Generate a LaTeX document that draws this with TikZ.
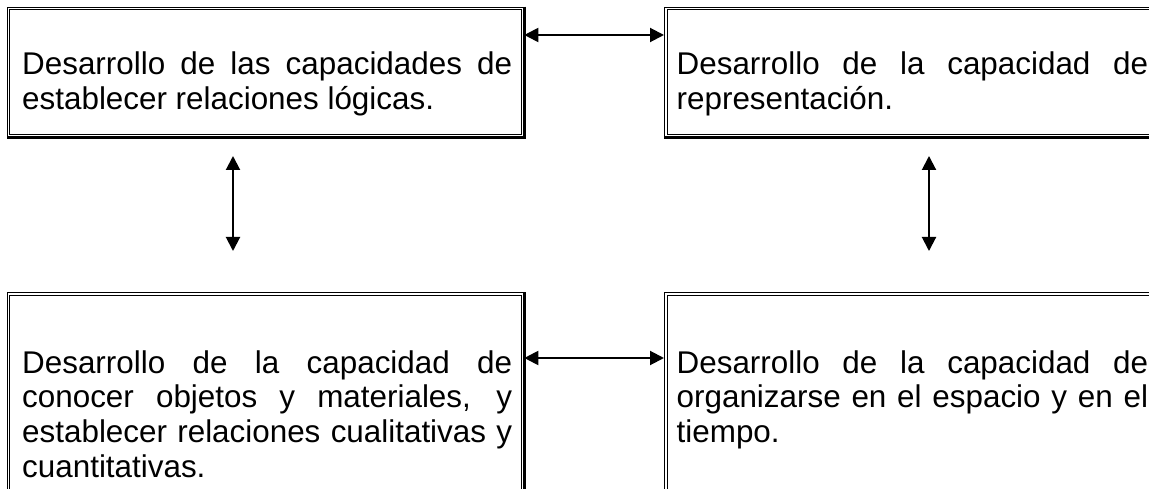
\documentclass[tikz,border=0pt]{standalone}
\usepackage{fontspec}
\setmainfont{Liberation Sans}
\usetikzlibrary{arrows.meta}
\tikzset{
  boxframe/.style={draw, line width=1.3pt, inner sep=0pt, anchor=north west},
  boxtext/.style={anchor=base west, inner sep=0pt, align=justify,
    font=\fontsize{31.4pt}{34.8pt}\selectfont},
  arr/.style={line width=2pt, {Triangle[length=14pt,width=14pt]}-{Triangle[length=14pt,width=14pt]}}
}
\begin{document}
\hyphenpenalty=10000
\exhyphenpenalty=10000
\tolerance=10000
\begin{tikzpicture}[x=1pt,y=-1pt]
\useasboundingbox (0,0) rectangle (1149,489);
\clip (0,0) rectangle (1149,489);
\fill[white] (0,0) rectangle (1149,489);
% boxes
\node[boxframe, minimum width=516.3pt, minimum height=129.3pt] (tl) at (6.7,6.7) {};
\node[boxframe, minimum width=516.3pt, minimum height=129.3pt] (tr) at (664,6.7) {};
\node[boxframe, minimum width=516.3pt, minimum height=230pt] (bl) at (6.7,292) {};
\node[boxframe, minimum width=516.3pt, minimum height=230pt] (br) at (664,292) {};
\foreach \n in {tl,tr,bl,br}{
  \draw[line width=1pt] ([shift={(3pt,-3pt)}]\n.north west) rectangle ([shift={(-3pt,3pt)}]\n.south east);
  \draw[line width=2.6pt] (\n.north east) -- (\n.south east) -- (\n.south west);
}
% texts
\node[boxtext, text width=490pt] (t1) at (22,75) {Desarrollo de las capacidades de\linebreak establecer relaciones lógicas.};
\node[boxtext, text width=471.5pt] (t2) at (676.5,75) {Desarrollo de la capacidad de\linebreak representación.};
\node[boxtext, text width=490pt] (t3) at (22,373) {Desarrollo de la capacidad de\linebreak conocer objetos y materiales, y\linebreak establecer relaciones cualitativas y\linebreak cuantitativas.};
\node[boxtext, text width=471.5pt] (t4) at (676.5,373) {Desarrollo de la capacidad de\linebreak organizarse en el espacio y en el\linebreak tiempo.};
% connectors
\draw[arr] ([yshift=-28.3pt]tl.north east) -- ([yshift=-28.3pt]tr.north west);
\draw[arr] ([yshift=-66pt]bl.north east) -- ([yshift=-66pt]br.north west);
\coordinate (la) at (233,156);
\coordinate (lb) at (233,251);
\coordinate (ra) at (929,156);
\coordinate (rb) at (929,251);
\draw[arr] (la) -- (lb);
\draw[arr] (ra) -- (rb);
\end{tikzpicture}
\end{document}
